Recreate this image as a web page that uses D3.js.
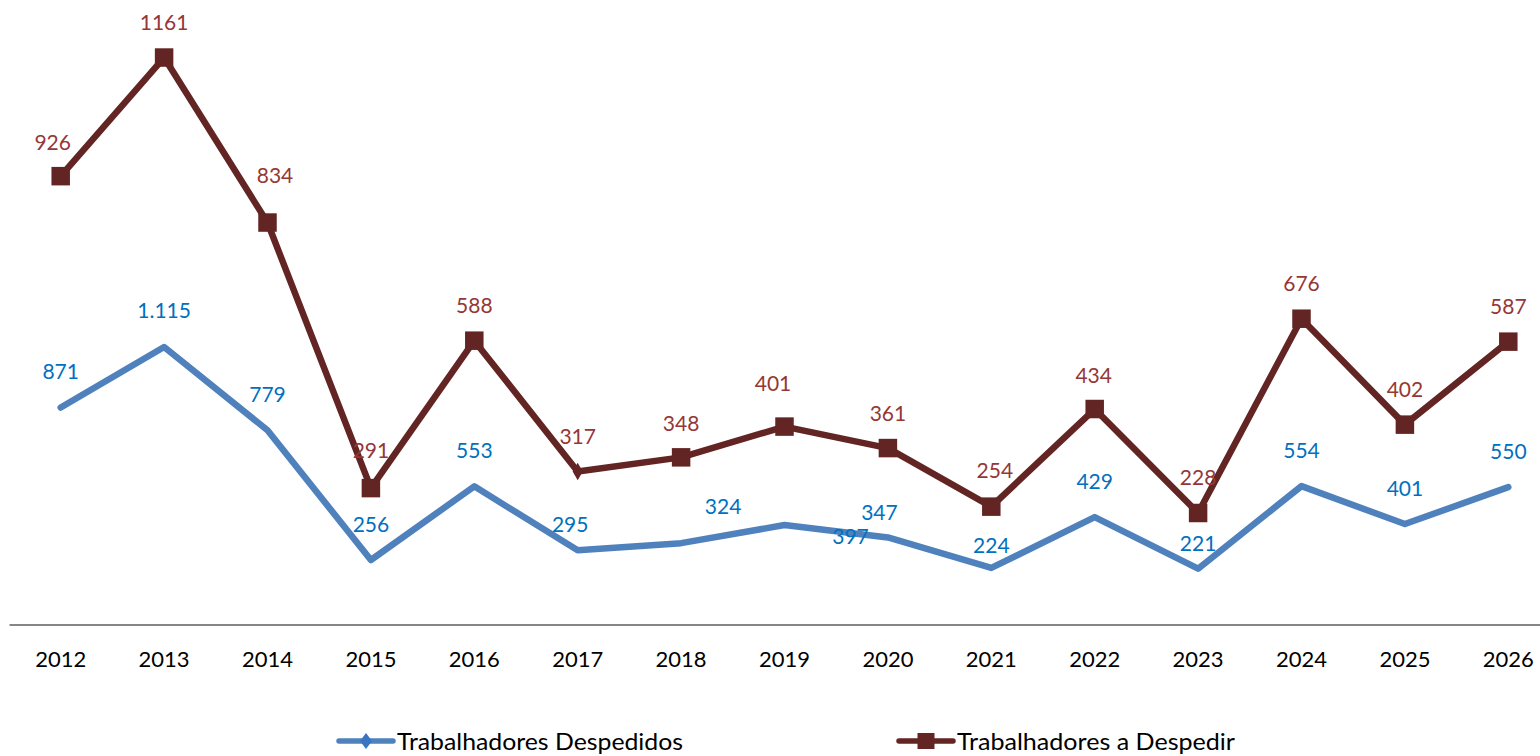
<!DOCTYPE html>
<html>
<head>
<meta charset="utf-8">
<script src="https://cdn.jsdelivr.net/npm/d3@7"></script>
<style>
  html, body { margin: 0; padding: 0; background: #fff; }
  svg { display: block; font-family: Lato, "Open Sans", sans-serif; }
</style>
</head>
<body>
<svg id="chart" width="1540" height="756"></svg>
<script>
// ---------- data ----------
const years = ["2012","2013","2014","2015","2016","2017","2018","2019","2020","2021","2022","2023","2024","2025","2026"];
const despedidos = [871, 1115, 779, 256, 553, 295, 324, 397, 347, 224, 429, 221, 554, 401, 550];
const aDespedir = [918, 1161, 823, 279, 581, 313, 342, 405, 361, 241, 441, 228, 626, 409, 579];
const aDespedirLabels = ["926","1161","834","291","588","317","348","401","361","254","434","228","676","402","587"];
const seriesNames = ["Trabalhadores Despedidos", "Trabalhadores a Despedir"];

// ---------- layout ----------
const W = 1540, H = 756;
const colBlue = "#4F81BD", colBlueLbl = "#0070C0";
const colRed = "#632523", colRedLbl = "#953735";
const svg = d3.select("#chart");

const x = d3.scaleBand().domain(years).range([9, 1560]);
const cx = d => x(d) + x.bandwidth() / 2;
const yBlue = d3.scaleLinear().domain([0, 2400]).range([623.5, 28.3]);
const yRed = d3.scaleLinear().domain([0, 1200]).range([624.3, 38.5]);

// label nudges (dx, dy of label centre relative to point)
const blueOff = { default: [0, -36], 1: [0, -37], 5: [-7.5, -26], 6: [42, -36.5], 7: [66, 11], 8: [-8.5, -25], 9: [0, -22.5], 11: [0, -25] };
const redOff = { default: [0, -35], 0: [-8, -34], 2: [7.5, -47.5], 3: [0, -37.5], 6: [0, -34], 7: [-11.5, -43], 9: [3.5, -36], 10: [-1, -33.5], 11: [0, -36] };
const off = (o, i) => o[i] || o.default;

// ---------- axis ----------
const axis = svg.append("g").attr("transform", "translate(0,624.5)")
  .call(d3.axisBottom(x).tickSize(0).tickSizeOuter(0).tickPadding(27));
axis.select(".domain").attr("stroke", "#868686").attr("stroke-width", 2);
axis.selectAll("text").attr("font-size", 22).attr("fill", "#000")
  .attr("font-family", "Lato, 'Open Sans', sans-serif");

// ---------- lines ----------
const blueLine = d3.line().x((d, i) => cx(years[i])).y(d => yBlue(d));
const redLine = d3.line().x((d, i) => cx(years[i])).y(d => yRed(d));

svg.append("path").datum(despedidos).attr("d", blueLine)
  .attr("fill", "none").attr("stroke", colBlue).attr("stroke-width", 6.5)
  .attr("stroke-linejoin", "round").attr("stroke-linecap", "round");

svg.append("path").datum(aDespedir).attr("d", redLine)
  .attr("fill", "none").attr("stroke", colRed).attr("stroke-width", 6.5)
  .attr("stroke-linejoin", "round").attr("stroke-linecap", "round");

// red markers
const ms = 18.5;
svg.append("g").selectAll("path").data(aDespedir).join("path")
  .attr("transform", (d, i) => `translate(${cx(years[i])},${yRed(d)})`)
  .attr("d", (d, i) => i === 5
    ? d3.symbol().type(d3.symbolDiamond).size(90)()
    : `M${-ms/2},${-ms/2}h${ms}v${ms}h${-ms}Z`)
  .attr("fill", colRed);

// ---------- labels ----------
const fmt = d3.formatLocale({ decimal: ",", thousands: ".", grouping: [3], currency: ["€", ""] }).format(",d");

svg.append("g").selectAll("text").data(despedidos).join("text")
  .attr("x", (d, i) => cx(years[i]) + off(blueOff, i)[0])
  .attr("y", (d, i) => yBlue(d) + off(blueOff, i)[1])
  .attr("dy", "0.36em").attr("text-anchor", "middle")
  .attr("font-size", 21).attr("fill", colBlueLbl)
  .text(d => fmt(d));

svg.append("g").selectAll("text").data(aDespedir).join("text")
  .attr("x", (d, i) => cx(years[i]) + off(redOff, i)[0])
  .attr("y", (d, i) => yRed(d) + off(redOff, i)[1])
  .attr("dy", "0.36em").attr("text-anchor", "middle")
  .attr("font-size", 21).attr("fill", colRedLbl)
  .text((d, i) => aDespedirLabels[i]);

// ---------- legend ----------
const legY = 741;
const leg = [
  { name: seriesNames[0], color: colBlue, x0: 337, marker: "diamond", len: 286 },
  { name: seriesNames[1], color: colRed, x0: 897, marker: "square", len: 278 }
];
const lg = svg.append("g").selectAll("g").data(leg).join("g")
  .attr("transform", d => `translate(${d.x0},${legY})`);
lg.append("line").attr("x1", 2).attr("x2", 56).attr("y1", 0).attr("y2", 0)
  .attr("stroke", d => d.color).attr("stroke-width", 5.5).attr("stroke-linecap", "round");
lg.append("path")
  .attr("transform", "translate(29,0)")
  .attr("d", d => d.marker === "diamond"
    ? "M0,-8L6,0L0,8L-6,0Z"
    : "M-8.5,-8L8.5,-8L8.5,8L-8.5,8Z")
  .attr("fill", d => d.marker === "diamond" ? "#3A75C4" : d.color);
lg.append("text").attr("x", 60).attr("y", 1).attr("dy", "0.36em")
  .attr("font-size", 23).attr("fill", "#000")
  .attr("textLength", d => d.len).attr("lengthAdjust", "spacingAndGlyphs")
  .text(d => d.name);
</script>
</body>
</html>
